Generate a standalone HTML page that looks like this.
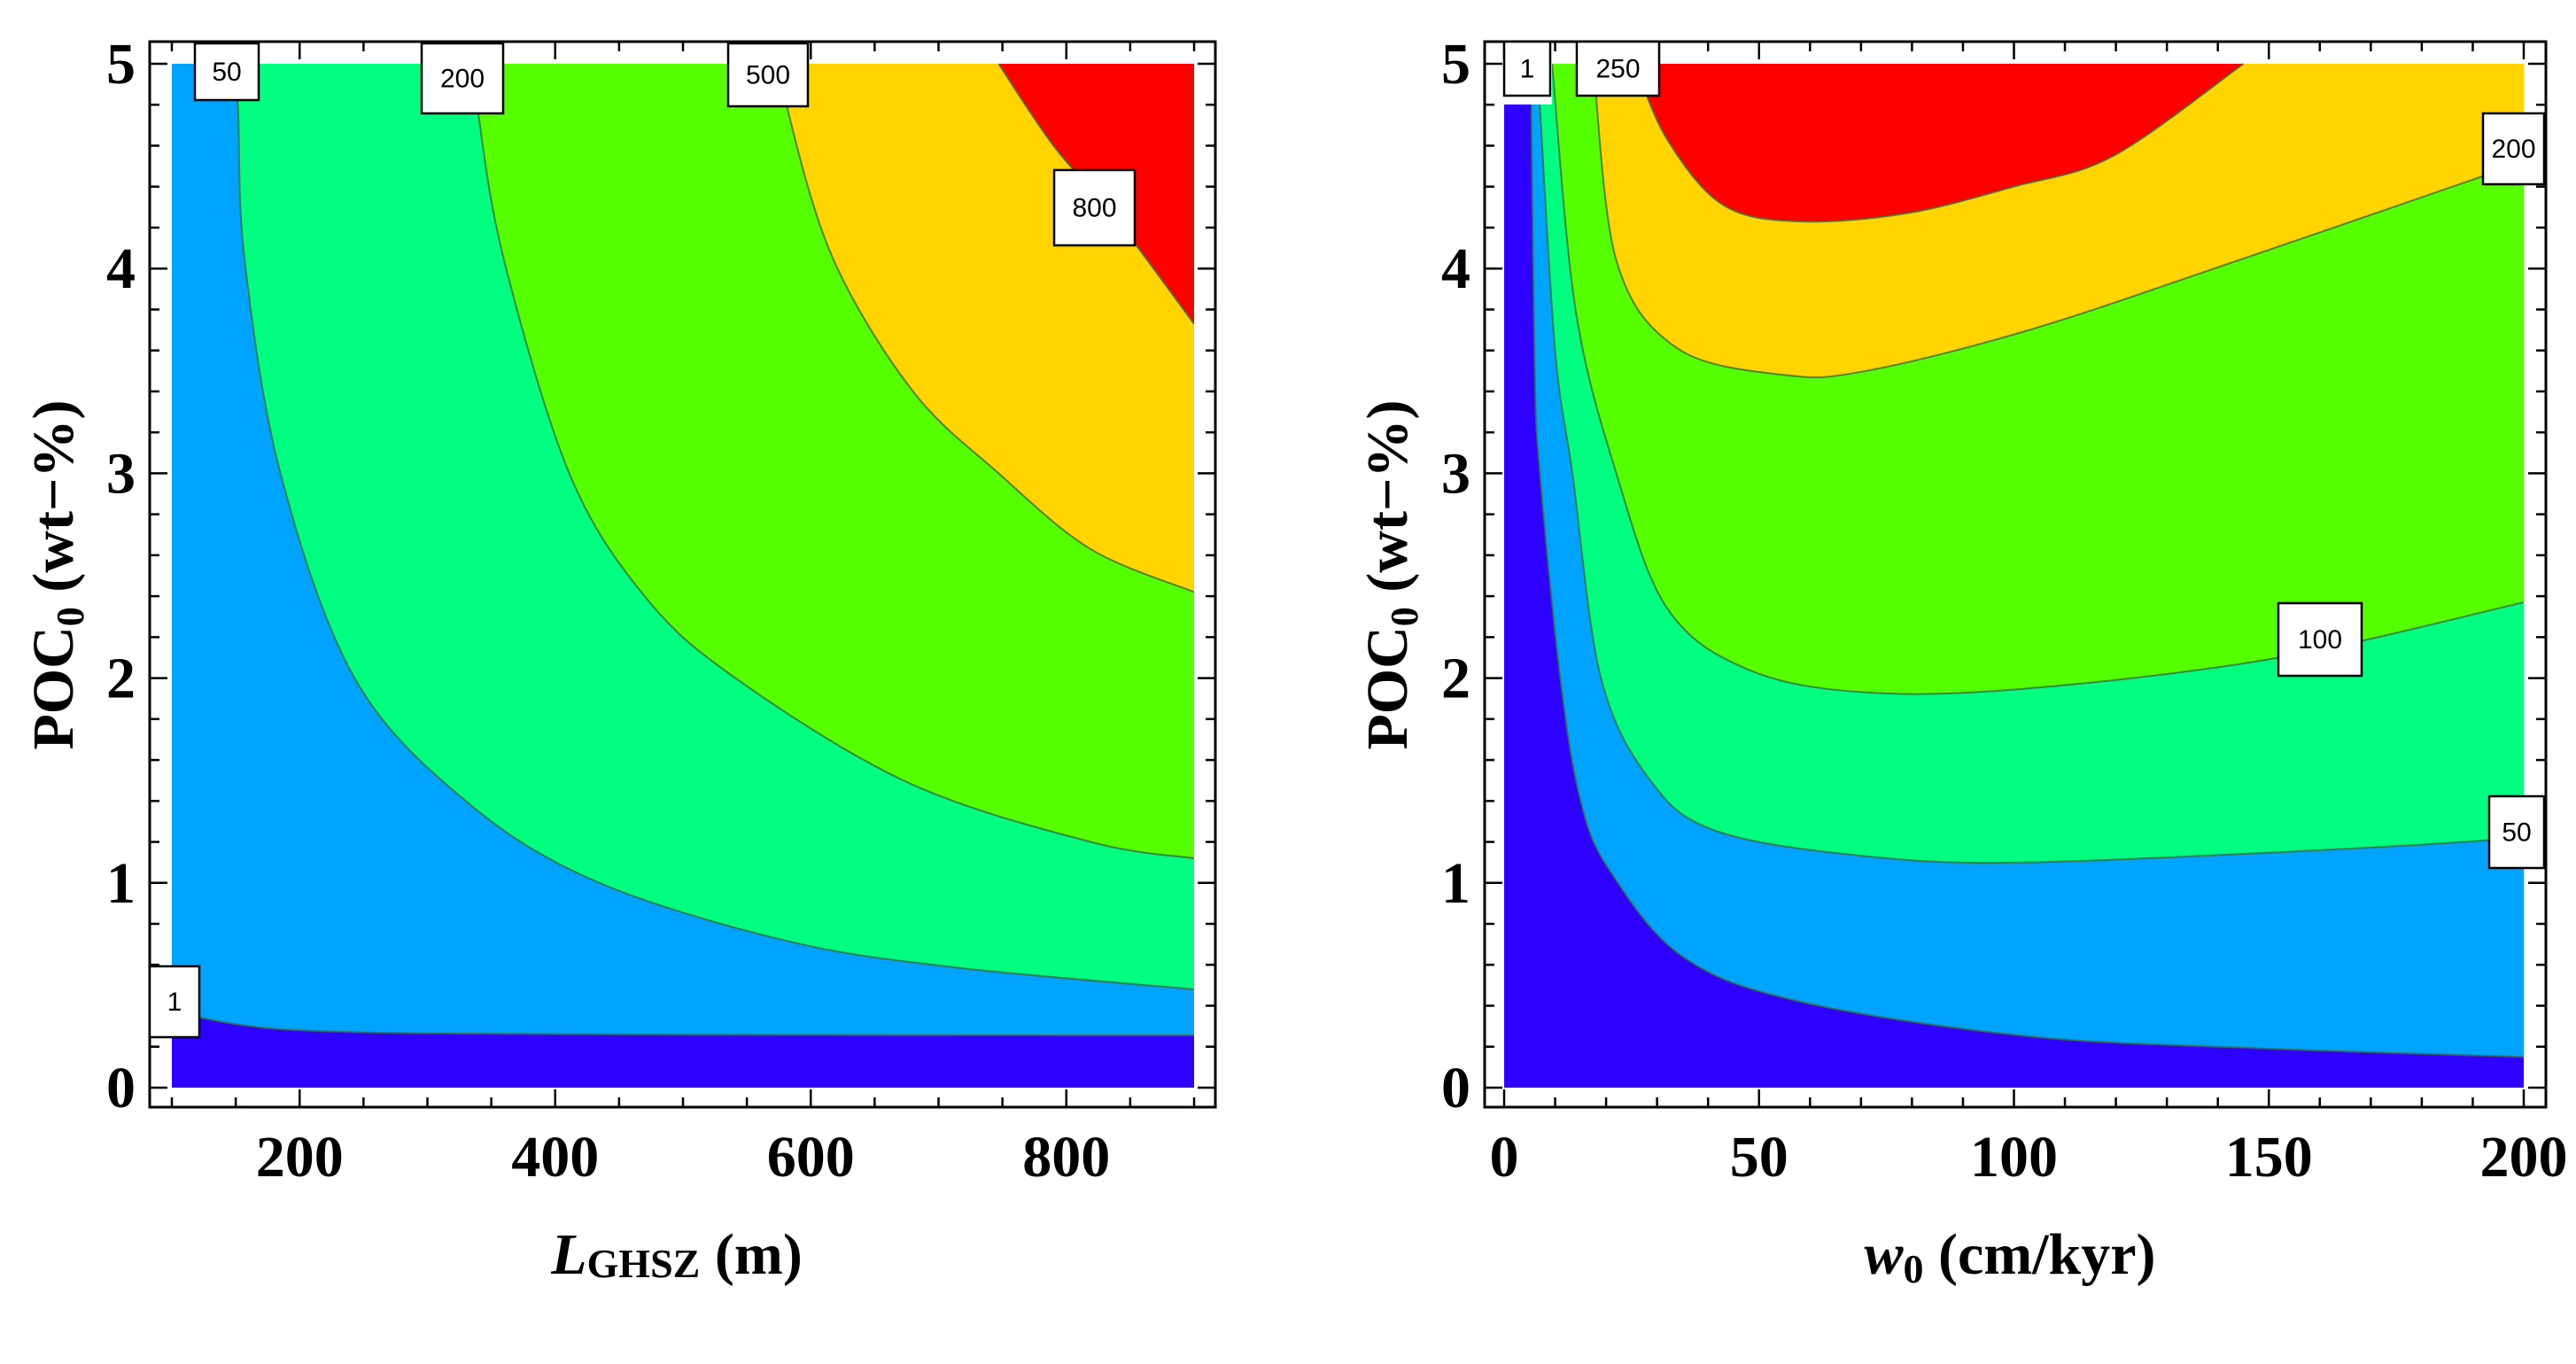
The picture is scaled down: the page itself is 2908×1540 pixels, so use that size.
<!DOCTYPE html>
<html><head><meta charset="utf-8"><style>
html,body{margin:0;padding:0;background:#fff;}
svg{display:block;font-family:"Liberation Serif",serif;}
</style></head><body>
<svg id="chart" width="2908" height="1540" xmlns="http://www.w3.org/2000/svg"></svg>
<script>
// ---- Left panel data ----
const leftXTicks = [200, 400, 600, 800];
const leftYTicks = [0, 1, 2, 3, 4, 5];
const leftLevels = ["1", "50", "200", "500", "800"];
const leftColors = ["#2d00ff", "#00a4ff", "#00ff80", "#55ff00", "#ffd400", "#ff0000"];
const leftC1 = [[100,0.37],[150,0.31],[200,0.28],[300,0.265],[500,0.258],[900,0.255]];
const leftC50 = [[150,5],[152,4.75],[157,4.04],[185,3.0],[243,2.0],[330,1.4],[431,1.01],[579,0.72],[709,0.59],[900,0.48]];
const leftC200 = [[338,5],[340,4.75],[360,4.04],[411,3.0],[470,2.4],[541,2.0],[676,1.49],[819,1.2],[900,1.12]];
const leftC500 = [[580,5],[583,4.75],[618,4.04],[680,3.4],[747,3.0],[819,2.63],[900,2.42]];
const leftC800 = [[747,5],[790,4.6],[838,4.25],[900,3.73]];
// ---- Right panel data ----
const rightXTicks = [0, 50, 100, 150, 200];
const rightYTicks = [0, 1, 2, 3, 4, 5];
const rightColors = ["#2d00ff", "#00a4ff", "#00ff80", "#55ff00", "#ffd400", "#ff0000"];
const rightC1 = [[5.3,4.8],[6,3.5],[7,3.0],[11,2.0],[15,1.4],[20.7,1.06],[35,0.64],[58,0.42],[103,0.25],[150,0.19],[200,0.15]];
const rightC50 = [[7,4.8],[10,3.6],[13.4,3.0],[19,2.0],[29,1.49],[42,1.25],[71,1.13],[103,1.1],[168,1.17],[200,1.22]];
const rightC100 = [[9.4,5],[14,3.8],[22,3.0],[32,2.34],[48,2.04],[71,1.93],[103,1.95],[152,2.1],[200,2.37]];
const rightC200 = [[17.5,5],[22,4.04],[34,3.61],[55,3.48],[71,3.5],[103,3.7],[144,4.04],[200,4.52]];
const rightC250 = [[25.6,5],[32,4.63],[43,4.31],[58,4.23],[79,4.27],[100,4.4],[119.5,4.55],[145,5]];

const NS = "http://www.w3.org/2000/svg";
const svg = document.getElementById("chart");
function mk(tag, attrs, parent) {
  const e = document.createElementNS(NS, tag);
  for (const k in attrs) e.setAttribute(k, attrs[k]);
  (parent || svg).appendChild(e);
  return e;
}
function smoothPath(pts) {
  let d = "M" + pts[0][0] + "," + pts[0][1];
  for (let i = 0; i < pts.length - 1; i++) {
    const p0 = pts[Math.max(0, i - 1)], p1 = pts[i], p2 = pts[i + 1], p3 = pts[Math.min(pts.length - 1, i + 2)];
    const c1 = [p1[0] + (p2[0] - p0[0]) / 6, p1[1] + (p2[1] - p0[1]) / 6];
    const c2 = [p2[0] - (p3[0] - p1[0]) / 6, p2[1] - (p3[1] - p1[1]) / 6];
    d += " C" + c1.join(",") + " " + c2.join(",") + " " + p2.join(",");
  }
  return d;
}
function panel(cfg) {
  const g = mk("g", {});
  
  
  const sx = v => cfg.px0 + (v - cfg.x0) / (cfg.x1 - cfg.x0) * (cfg.px1 - cfg.px0);
  const sy = v => cfg.py0 - v / 5 * (cfg.py0 - cfg.py1);
  const base = mk("rect", {x: sx(cfg.x0), y: sy(5), width: sx(cfg.x1) - sx(cfg.x0), height: sy(0) - sy(5), fill: cfg.colors[0]}, g);
  
  
  cfg.contours.forEach((c, i) => {
    const pts = c.map(p => [sx(p[0]), sy(p[1])]);
    const line = smoothPath(pts);
    const reg = mk("path", {d: line + " L" + sx(cfg.x1) + "," + sy(5) + " L" + pts[0][0] + "," + sy(5) + " Z", fill: cfg.colors[i + 1]}, g);
    
    
  });
  cfg.contours.forEach((c, i) => {
    const pts = c.map(p => [sx(p[0]), sy(p[1])]);
    const ln = mk("path", {d: smoothPath(pts), fill: "none", stroke: "#3c6a3c", "stroke-width": 2, "stroke-opacity": 0.8}, g);
    
    
  });
  if (cfg.blank) cfg.blank.forEach(b => {
    const r = mk("rect", {x: b[0], y: b[1], width: b[2], height: b[3], fill: "#fff"}, g);
    
    
  });
  const fr = mk("rect", {x: cfg.fx0, y: cfg.fy0, width: cfg.fx1 - cfg.fx0, height: cfg.fy1 - cfg.fy0, fill: "none", stroke: "#000", "stroke-width": 3}, g);
  
  
  for (let v = cfg.x0min; v <= cfg.x1 + 1e-9; v += cfg.xminor) {
    const major = cfg.xticks.some(t => Math.abs(t - v) < 1e-6);
    const L = major ? 20 : 11, x = sx(v);
    mk("line", {x1: x, x2: x, y1: cfg.fy1, y2: cfg.fy1 - L, stroke: "#000", "stroke-width": 2.5}, g);
    mk("line", {x1: x, x2: x, y1: cfg.fy0, y2: cfg.fy0 + L, stroke: "#000", "stroke-width": 2.5}, g);
  }
  for (let k = 0; k <= 25; k++) {
    const v = k * 0.2, major = k % 5 === 0, L = major ? 20 : 11, y = sy(v);
    mk("line", {x1: cfg.fx0, x2: cfg.fx0 + L, y1: y, y2: y, stroke: "#000", "stroke-width": 2.5}, g);
    mk("line", {x1: cfg.fx1, x2: cfg.fx1 - L, y1: y, y2: y, stroke: "#000", "stroke-width": 2.5}, g);
  }
  cfg.xticks.forEach(t => {
    const tx = mk("text", {x: sx(t), y: 1328, "text-anchor": "middle", "font-size": 66, "font-weight": "bold"}, g);
    tx.textContent = t;
    
    
  });
  cfg.yticks.forEach(t => {
    const tx = mk("text", {x: cfg.fx0 - 16, y: sy(t) + 22, "text-anchor": "end", "font-size": 66, "font-weight": "bold"}, g);
    tx.textContent = t;
    
    
  });
  cfg.labels.forEach(l => {
    const r = mk("rect", {x: l[1], y: l[2], width: l[3], height: l[4], fill: "#fff", stroke: "#000", "stroke-width": 2.5}, g);
    
    
    const t = mk("text", {x: l[1] + l[3] / 2, y: l[2] + l[4] / 2 + 10, "text-anchor": "middle", "font-size": 30, "font-family": "Liberation Sans, sans-serif"}, g);
    t.textContent = l[0];
    
    
  });
  const yt = mk("text", {x: 0, y: 0, transform: "translate(" + cfg.ytx + ",649) rotate(-90)", "text-anchor": "middle", "font-size": 66, "font-weight": "bold"}, g);
  yt.innerHTML = 'POC<tspan font-size="44" dy="12">0</tspan><tspan dy="-12"> (wt−%)</tspan>';
  
  
  const xt = mk("text", {x: cfg.xtx, y: 1438, "text-anchor": "middle", "font-size": 66, "font-weight": "bold"}, g);
  xt.innerHTML = cfg.xtitle;
  
  
}
panel({
  name: "left-panel", x0: 100, x1: 900, x0min: 100, xminor: 50, px0: 194, px1: 1348, py0: 1228, py1: 72,
  fx0: 169, fx1: 1372, fy0: 47, fy1: 1250,
  colors: leftColors, levels: leftLevels, contours: [leftC1, leftC50, leftC200, leftC500, leftC800],
  xticks: leftXTicks, yticks: leftYTicks, ytx: 82, xtx: 764,
  xtitle: '<tspan font-style="italic">L</tspan><tspan font-size="46" dy="4">GHSZ</tspan><tspan dy="-4"> (m)</tspan>',
  labels: [["50", 220, 49, 72, 64], ["200", 476, 49, 92, 79], ["500", 822, 49, 90, 71], ["800", 1190, 192, 91, 85], ["1", 169, 1091, 56, 80]]
});
panel({
  name: "right-panel", x0: 0, x1: 200, x0min: 0, xminor: 10, px0: 1698, px1: 2849, py0: 1228, py1: 72,
  fx0: 1676, fx1: 2874, fy0: 47, fy1: 1250,
  colors: rightColors, levels: ["1", "50", "100", "200", "250"], contours: [rightC1, rightC50, rightC100, rightC200, rightC250],
  xticks: rightXTicks, yticks: rightYTicks, ytx: 1588, xtx: 2269,
  xtitle: '<tspan font-style="italic">w</tspan><tspan font-size="46" dy="10">0</tspan><tspan dy="-10"> (cm/kyr)</tspan>',
  blank: [[1698, 72, 54, 46]],
  labels: [["1", 1698, 47, 52, 61], ["250", 1780, 47, 93, 61], ["200", 2803, 128, 69, 80], ["100", 2572, 681, 94, 82], ["50", 2810, 899, 62, 81]]
});
</script>
</body></html>
